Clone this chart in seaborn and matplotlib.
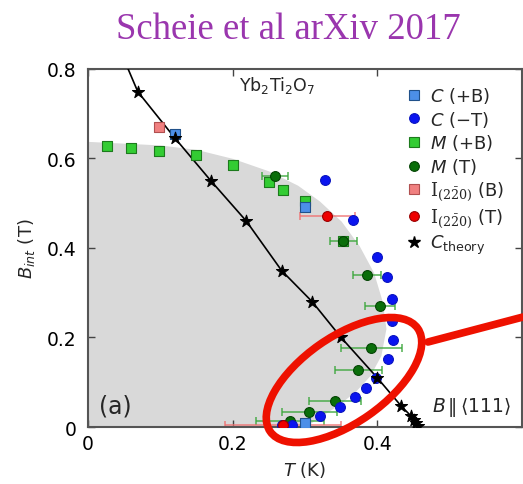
import numpy as np
import pandas as pd
import matplotlib
matplotlib.use("Agg")
import matplotlib.pyplot as plt
import seaborn as sns
from matplotlib.patches import Ellipse
from matplotlib.lines import Line2D
from matplotlib.transforms import IdentityTransform

# ---------------- data ----------------
# C (+B): blue squares
cB_T = [0.121, 0.300, 0.300]
cB_B = [0.655, 0.492, 0.008]
# C (-T): blue circles
cT_T = [0.328, 0.367, 0.399, 0.413, 0.421, 0.421, 0.422, 0.415, 0.398, 0.385,
        0.369, 0.349, 0.321, 0.300, 0.282, 0.268]
cT_B = [0.552, 0.463, 0.380, 0.334, 0.286, 0.237, 0.195, 0.152, 0.109, 0.087,
        0.067, 0.045, 0.025, 0.006, 0.005, 0.004]
# M (+B): light green squares
mB_T = [0.026, 0.059, 0.098, 0.149, 0.200, 0.250, 0.270, 0.300, 0.353]
mB_B = [0.628, 0.623, 0.617, 0.608, 0.585, 0.547, 0.530, 0.505, 0.416]
# M (T): dark green circles with horizontal errors
mT_T = [0.259, 0.353, 0.386, 0.404, 0.392, 0.374, 0.341, 0.306, 0.280]
mT_B = [0.561, 0.416, 0.340, 0.270, 0.177, 0.127, 0.058, 0.034, 0.013]
mT_err = [0.018, 0.019, 0.019, 0.021, 0.042, 0.033, 0.036, 0.038, 0.047]
# I_(2-20) (B): light red squares
iB_T = [0.098]
iB_B = [0.670]
# I_(2-20) (T): red circles with horizontal errors
iT_T = [0.331, 0.270]
iT_B = [0.472, 0.004]
iT_err = [0.038, 0.080]
# C theory: stars
th_T = [0.045, 0.069, 0.120, 0.170, 0.219, 0.268, 0.310, 0.350, 0.400, 0.433,
        0.447, 0.451, 0.454, 0.457]
th_B = [0.840, 0.749, 0.646, 0.550, 0.460, 0.349, 0.280, 0.200, 0.110, 0.047,
        0.024, 0.015, 0.008, 0.003]
# shaded ordered-phase region boundary
ph_T = [0.0, 0.10, 0.15, 0.20, 0.25, 0.29, 0.32, 0.35, 0.375, 0.395, 0.407,
        0.412, 0.405, 0.39, 0.37, 0.345, 0.318, 0.30]
ph_B = [0.638, 0.630, 0.620, 0.600, 0.572, 0.540, 0.505, 0.460, 0.405, 0.345,
        0.280, 0.220, 0.160, 0.115, 0.080, 0.048, 0.020, 0.0]

xticks = [0, 0.2, 0.4]
xtick_labels = ["0", "0.2", "0.4"]
yticks = [0, 0.2, 0.4, 0.6, 0.8]
ytick_labels = ["0", "0.2", "0.4", "0.6", "0.8"]

# ---------------- style ----------------
sns.set_style("ticks")
plt.rcParams["font.family"] = ["DejaVu Sans"]
plt.rcParams["mathtext.fontset"] = "custom"
plt.rcParams["mathtext.rm"] = "DejaVu Serif"
plt.rcParams["mathtext.it"] = "DejaVu Sans:italic"
plt.rcParams["mathtext.sf"] = "DejaVu Sans"
plt.rcParams["mathtext.bf"] = "DejaVu Sans:bold"

fig = plt.figure(figsize=(5.23, 4.85), dpi=100)
fig.patch.set_facecolor("white")
ax = fig.add_axes([0.168, 0.1175, 0.830, 0.7385])
ax.set_facecolor("white")

# shaded region
ax.fill_betweenx(ph_B, 0, ph_T, color="#d9d9d9", lw=0, zorder=0)

# errorbars
ax.errorbar(mT_T, mT_B, xerr=mT_err, fmt="none", ecolor="#3aa63a", alpha=0.75,
            elinewidth=1.3, capsize=3, capthick=1.3, zorder=2)
ax.errorbar(iT_T, iT_B, xerr=iT_err, fmt="none", ecolor="#f07070", alpha=0.75,
            elinewidth=1.3, capsize=3, capthick=1.3, zorder=2)

# theory line + stars
dth = pd.DataFrame({"T": th_T, "B": th_B})
sns.lineplot(data=dth, x="T", y="B", sort=False, color="black", lw=1.2,
             ax=ax, zorder=3, legend=False)
sns.scatterplot(data=dth, x="T", y="B", marker="*", s=85, color="black",
                edgecolor="black", ax=ax, zorder=6, legend=False)

def sc(T, B, marker, face, edge, s, z):
    sns.scatterplot(x=T, y=B, marker=marker, s=s, color=face, edgecolor=edge,
                    linewidth=0.8, ax=ax, zorder=z, legend=False)

sc(mB_T, mB_B, "s", "#33cc33", "#1d7a1d", 45, 3)
sc(mT_T, mT_B, "o", "#0a6e0a", "#044404", 50, 4)
sc(cT_T, cT_B, "o", "#0a14f0", "#0a14c0", 50, 4)
sc(cB_T, cB_B, "s", "#4c8fe8", "#20508a", 45, 5)
sc(iB_T, iB_B, "s", "#f08080", "#b05050", 45, 5)
sc(iT_T, iT_B, "o", "#ee0000", "#990000", 50, 5)

ax.set_xlim(0, 0.6)
ax.set_ylim(0, 0.8)
ax.set_xticks(xticks)
ax.set_xticklabels(xtick_labels)
ax.set_yticks(yticks)
ax.set_yticklabels(ytick_labels)
ax.tick_params(direction="in", length=5, width=1, labelsize=13.5, top=True,
               right=True, colors="#444444", labelcolor="black")
ax.tick_params(axis="y", pad=8)
ax.tick_params(axis="x", pad=5)
for sp in ax.spines.values():
    sp.set_visible(True)
    sp.set_color("#555555")
    sp.set_linewidth(1.5)
ax.set_xlabel("$T$ (K)", fontsize=13, labelpad=4)
ax.set_ylabel("$B_{int}$ (T)", fontsize=13, labelpad=7)

# texts
ax.text(0.262, 0.766, r"Yb$_\mathsf{2}$Ti$_\mathsf{2}$O$_\mathsf{7}$", fontsize=12.5,
        ha="center", va="center")
ax.text(0.015, 0.048, "(a)", fontsize=17, ha="left", va="center")
ax.text(0.585, 0.045, r"$B\,\|\,\langle\mathsf{111}\rangle$", fontsize=13.5,
        ha="right", va="center")

# legend
handles = [
    Line2D([], [], ls="none", marker="s", ms=6.5, mfc="#4c8fe8", mec="#20508a", mew=0.8),
    Line2D([], [], ls="none", marker="o", ms=7, mfc="#0a14f0", mec="#0a14c0", mew=0.8),
    Line2D([], [], ls="none", marker="s", ms=6.5, mfc="#33cc33", mec="#1d7a1d", mew=0.8),
    Line2D([], [], ls="none", marker="o", ms=7, mfc="#0a6e0a", mec="#044404", mew=0.8),
    Line2D([], [], ls="none", marker="s", ms=6.5, mfc="#f08080", mec="#b05050", mew=0.8),
    Line2D([], [], ls="none", marker="o", ms=7, mfc="#ee0000", mec="#990000", mew=0.8),
    Line2D([], [], ls="none", marker="*", ms=9, mfc="black", mec="black"),
]
labels = [r"$C$ (+B)", r"$C$ ($-$T)", r"$M$ (+B)", r"$M$ (T)",
          r"$\mathrm{I}_{(2\bar{2}0)}$ (B)", r"$\mathrm{I}_{(2\bar{2}0)}$ (T)",
          r"$C_{\mathsf{theory}}$"]
ax.legend(handles, labels, loc="upper right", bbox_to_anchor=(0.985, 0.985),
          frameon=False, fontsize=13, handletextpad=0.3, labelspacing=0.2,
          borderaxespad=0.2, handlelength=1.2)

# title
fig.text(0.551, 0.938, "Scheie et al arXiv 2017", fontsize=26.5,
         family="Liberation Serif", color="#9a36ae", ha="center", va="center")

# red annotation ellipse and pointer (display pixel coordinates)
ell = Ellipse((344, 104), width=180, height=86, angle=35, fill=False,
              edgecolor="#ee1100", linewidth=5.5, transform=IdentityTransform(),
              zorder=20)
fig.add_artist(ell)
fig.add_artist(Line2D([428, 523], [142, 167], color="#ee1100", lw=5.5,
                      transform=IdentityTransform(), zorder=20))

fig.savefig("out.png", dpi=100)
